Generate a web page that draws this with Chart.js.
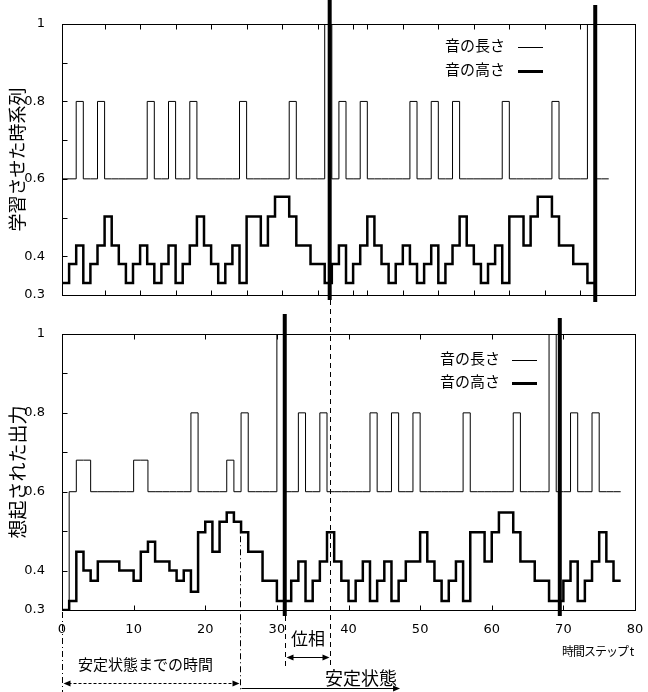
<!DOCTYPE html>
<html><head><meta charset="utf-8">
<script src="https://cdn.jsdelivr.net/npm/chart.js@4.4.0/dist/chart.umd.min.js"></script>
<style>
html,body{margin:0;padding:0;background:#fff;}
#wrap{position:relative;width:648px;height:692px;overflow:hidden;background:#fff;}
canvas{position:absolute;left:0;top:0;}
.t{position:absolute;font-family:"Noto Sans CJK JP",sans-serif;line-height:1;white-space:nowrap;color:#000;}
.ln{position:absolute;background:#000;}
</style></head><body>
<div id="wrap">
<canvas id="topc" width="648" height="692"></canvas>
<canvas id="botc" width="648" height="692"></canvas>
<div class="t" style="left:445px;top:37px;font-size:15px">音の長さ</div>
<div class="ln" style="left:518px;top:47px;width:25px;height:1px"></div>
<div class="t" style="left:445px;top:61px;font-size:15px">音の高さ</div>
<div class="ln" style="left:518px;top:70px;width:25px;height:3px"></div>
<div class="t" style="left:440px;top:350px;font-size:15px">音の長さ</div>
<div class="ln" style="left:512px;top:360px;width:25px;height:1px"></div>
<div class="t" style="left:440px;top:373px;font-size:15px">音の高さ</div>
<div class="ln" style="left:512px;top:382px;width:25px;height:3px"></div>
<div class="t" style="left:291px;top:629px;font-size:17px">位相</div>
<div class="t" style="left:562px;top:645px;font-size:12px;letter-spacing:-1px">時間ステップ t</div>
<div class="t" style="left:78px;top:656px;font-size:15px">安定状態までの時間</div>
<div class="t" style="left:325px;top:668px;font-size:18px">安定状態</div>
</div>
<script>
// ---------------- data ----------------
// top panel: learned time series (step index -> value)
const topPitch = [0.331,0.38,0.428,0.331,0.38,0.428,0.503,0.428,0.38,0.331,0.38,0.428,0.38,0.331,0.38,0.428,0.331,0.38,0.428,0.503,0.428,0.38,0.331,0.38,0.428,0.331,0.503,0.503,0.428,0.503,0.554,0.554,0.503,0.428,0.428,0.38,0.38,
  0.331,0.38,0.428,0.331,0.38,0.428,0.503,0.428,0.38,0.331,0.38,0.428,0.38,0.331,0.38,0.428,0.331,0.38,0.428,0.503,0.428,0.38,0.331,0.38,0.428,0.331,0.503,0.503,0.428,0.503,0.554,0.554,0.503,0.428,0.428,0.38,0.38,
  0.331];
const topDuration = [0.6,0.6,0.8,0.6,0.6,0.8,0.6,0.6,0.6,0.6,0.6,0.6,0.8,0.6,0.6,0.8,0.6,0.6,0.8,0.6,0.6,0.6,0.6,0.6,0.6,0.8,0.6,0.6,0.6,0.6,0.6,0.6,0.8,0.6,0.6,0.6,0.6,1.0,
  0.6,0.8,0.6,0.6,0.8,0.6,0.6,0.6,0.6,0.6,0.6,0.8,0.6,0.6,0.8,0.6,0.6,0.8,0.6,0.6,0.6,0.6,0.6,0.6,0.8,0.6,0.6,0.6,0.6,0.6,0.6,0.8,0.6,0.6,0.6,0.6,1.0,
  0.6,0.6];
// bottom panel: recalled output (time step t -> value)
const botPitch = [0.30,0.323,0.448,0.40,0.374,0.423,0.423,0.423,0.40,0.40,0.374,0.448,0.473,0.423,0.423,0.40,0.374,0.40,0.346,0.497,
  0.524,0.448,0.524,0.547,0.524,0.497,0.448,0.448,0.374,0.374,0.323,0.323,0.374,0.423,0.323,0.374,0.423,0.497,0.423,0.374,
  0.323,0.374,0.423,0.323,0.374,0.423,0.323,0.374,0.423,0.423,0.497,0.423,0.374,0.323,0.374,0.423,0.323,0.497,0.497,0.423,
  0.497,0.547,0.547,0.497,0.423,0.423,0.374,0.374,0.323,0.323,0.374,0.423,0.323,0.374,0.423,0.497,0.423,0.374];
const botDuration = [0.3,0.6,0.68,0.68,0.6,0.6,0.6,0.6,0.6,0.6,0.68,0.68,0.6,0.6,0.6,0.6,0.6,0.6,0.8,0.6,
  0.6,0.6,0.6,0.68,0.6,0.8,0.6,0.6,0.6,0.6,1.0,0.6,0.6,0.8,0.6,0.6,0.8,0.6,0.6,0.6,
  0.6,0.6,0.6,0.8,0.6,0.6,0.8,0.6,0.6,0.8,0.6,0.6,0.6,0.6,0.6,0.6,0.8,0.6,0.6,0.6,
  0.6,0.6,0.6,0.8,0.6,0.6,0.6,0.6,1.0,0.6,0.6,0.8,0.6,0.6,0.8,0.6,0.6,0.6];
// markers (in each panel's step units)
const topPhaseMarks = [37.7, 75.1];
const botPhaseMarks = [31.1, 69.5];
const transientEnd = 24.9;
const steadyArrowEnd = 47.2;
// ticks
const yTickValues = [0.3,0.4,0.5,0.6,0.7,0.8,0.9,1.0];
const yTickLabels = ['0.3','0.4','','0.6','','0.8','','1'];
const xTickValues = [0,10,20,30,40,50,60,70,80];
const xTickLabels = ['0','10','20','30','40','50','60','70','80'];
const topTickSteps = [6,11,16,21,26,31,36,41,43,48,53,58,63,68,73];
const seriesNames = ['音の長さ','音の高さ'];

// ---------------- helpers ----------------
function steps(vals){const p=vals.map((v,i)=>({x:i,y:v}));p.push({x:vals.length,y:vals[vals.length-1]});return p;}
function seg(ctx,x1,y1,x2,y2){ctx.beginPath();ctx.moveTo(x1,y1);ctx.lineTo(x2,y2);ctx.stroke();}
function head(ctx,x,y,dir){ctx.beginPath();ctx.moveTo(x,y);ctx.lineTo(x-dir*7,y-3);ctx.lineTo(x-dir*7,y+3);ctx.closePath();ctx.fill();}
function yLabel(v){const i=yTickValues.findIndex(t=>Math.abs(t-v)<1e-6);return i<0?'':yTickLabels[i];}
function xLabel(v){const i=xTickValues.findIndex(t=>Math.abs(t-v)<1e-6);return i<0?'':xTickLabels[i];}
const tickFont={family:'"DejaVu Sans"',size:13};
const cjk='"Noto Sans CJK JP"';

const framePlugin={id:'frame',afterDraw(chart,args,opts){
  const {ctx,chartArea:a,scales:{x,y}}=chart;
  ctx.save();ctx.strokeStyle='#000';ctx.lineWidth=1;ctx.setLineDash([]);
  const L=Math.round(a.left)+0.5,R=Math.round(a.right)+0.5,T=Math.round(a.top)+0.5,B=Math.round(a.bottom)+0.5;
  ctx.strokeRect(L,T,R-L,B-T);
  for(const v of yTickValues){const py=Math.round(y.getPixelForValue(v))+0.5;seg(ctx,L,py,L+5,py);}
  for(const v of opts.xt){const px=Math.round(x.getPixelForValue(v))+0.5;seg(ctx,px,T,px,T+5);seg(ctx,px,B-5,px,B);}
  ctx.restore();
}};

function baseOptions(yTitle,titleSize,padTop,xHeight,xmax,showX){
  return {
    responsive:false,animation:false,devicePixelRatio:1,
    layout:{padding:{left:0,right:13,top:padTop,bottom:0}},
    plugins:{legend:{display:false},tooltip:{enabled:false}},
    elements:{line:{borderJoinStyle:'miter',borderCapStyle:'butt'}},
    scales:{
      x:{type:'linear',min:0,max:xmax,
        grid:{display:false},border:{display:false},
        afterFit:s=>{s.height=xHeight;},
        afterBuildTicks:s=>{s.ticks=xTickValues.map(v=>({value:v}));},
        ticks:{display:showX,autoSkip:false,maxRotation:0,padding:4,color:'#000',font:tickFont,callback:v=>xLabel(v)}},
      y:{type:'linear',min:0.3,max:1.0,
        grid:{display:false},border:{display:false},
        afterFit:s=>{s.width=62;},
        afterBuildTicks:s=>{s.ticks=yTickValues.map(v=>({value:v}));},
        ticks:{autoSkip:false,padding:9,color:'#000',font:tickFont,callback:v=>yLabel(v)},
        title:{display:true,text:yTitle,color:'#000',font:{family:cjk,size:titleSize},padding:{top:6,bottom:0}}}
    }
  };
}

// ---------------- top chart ----------------
const topOpts=baseOptions('学習させた時系列',18,24,397,80.7,false);
topOpts.plugins.frame={xt:topTickSteps};
const topChart=new Chart(document.getElementById('topc'),{
  type:'line',
  data:{datasets:[
    {label:seriesNames[0],data:steps(topDuration),borderColor:'#000',borderWidth:1,stepped:'before',pointRadius:0,fill:false},
    {label:seriesNames[1],data:steps(topPitch),borderColor:'#000',borderWidth:2.5,stepped:'before',pointRadius:0,fill:false}
  ]},
  options:topOpts,
  plugins:[framePlugin,{id:'topMarks',afterDraw(chart){
    const {ctx,scales:{x}}=chart;ctx.save();ctx.strokeStyle='#000';
    const p1=x.getPixelForValue(topPhaseMarks[0]),p2=x.getPixelForValue(topPhaseMarks[1]);
    ctx.lineWidth=4;seg(ctx,p1,0,p1,300);seg(ctx,p2,5,p2,302);
    ctx.lineWidth=1;ctx.setLineDash([5,4]);const q=Math.round(p1)+0.5;seg(ctx,q,300,q,667);
    ctx.restore();}}]
});

// ---------------- bottom chart ----------------
const botOpts=baseOptions('想起された出力',19,334,82,80,true);
botOpts.plugins.frame={xt:xTickValues};
const botChart=new Chart(document.getElementById('botc'),{
  type:'line',
  data:{datasets:[
    {label:seriesNames[0],data:steps(botDuration),borderColor:'#000',borderWidth:1,stepped:'before',pointRadius:0,fill:false},
    {label:seriesNames[1],data:steps(botPitch),borderColor:'#000',borderWidth:2.5,stepped:'before',pointRadius:0,fill:false}
  ]},
  options:botOpts,
  plugins:[framePlugin,{id:'botMarks',afterDraw(chart){
    const {ctx,scales:{x,y}}=chart;ctx.save();ctx.strokeStyle='#000';ctx.fillStyle='#000';
    const m1=x.getPixelForValue(botPhaseMarks[0]),m2=x.getPixelForValue(botPhaseMarks[1]);
    ctx.lineWidth=4;seg(ctx,m1,314,m1,616);seg(ctx,m2,318,m2,616);
    const tp=Math.round(topChart.scales.x.getPixelForValue(topPhaseMarks[0]))+0.5;
    const q1=Math.round(m1)+0.5;
    ctx.lineWidth=1;ctx.setLineDash([5,4]);seg(ctx,q1,616,q1,667);
    // transient end dash-dot lines
    const te=Math.round(x.getPixelForValue(transientEnd))+0.5, x0=Math.round(x.getPixelForValue(0))+0.5;
    ctx.setLineDash([6,3,1,3]);
    seg(ctx,te,y.getPixelForValue(0.52),te,692);
    seg(ctx,x0,612,x0,692);
    // transient arrow (dashed, both heads)
    ctx.setLineDash([3,2]);seg(ctx,x0+6,683.5,te-6,683.5);ctx.setLineDash([]);
    head(ctx,x0+1,683.5,-1);head(ctx,te-1,683.5,1);
    // steady arrow
    const se=x.getPixelForValue(steadyArrowEnd);
    seg(ctx,te+1,688.5,se-6,688.5);head(ctx,se,688.5,1);
    // phase arrow
    seg(ctx,q1+6,657.5,tp-6,657.5);head(ctx,q1+1,657.5,-1);head(ctx,tp-1,657.5,1);
    ctx.restore();}}]
});
</script>
</body></html>
